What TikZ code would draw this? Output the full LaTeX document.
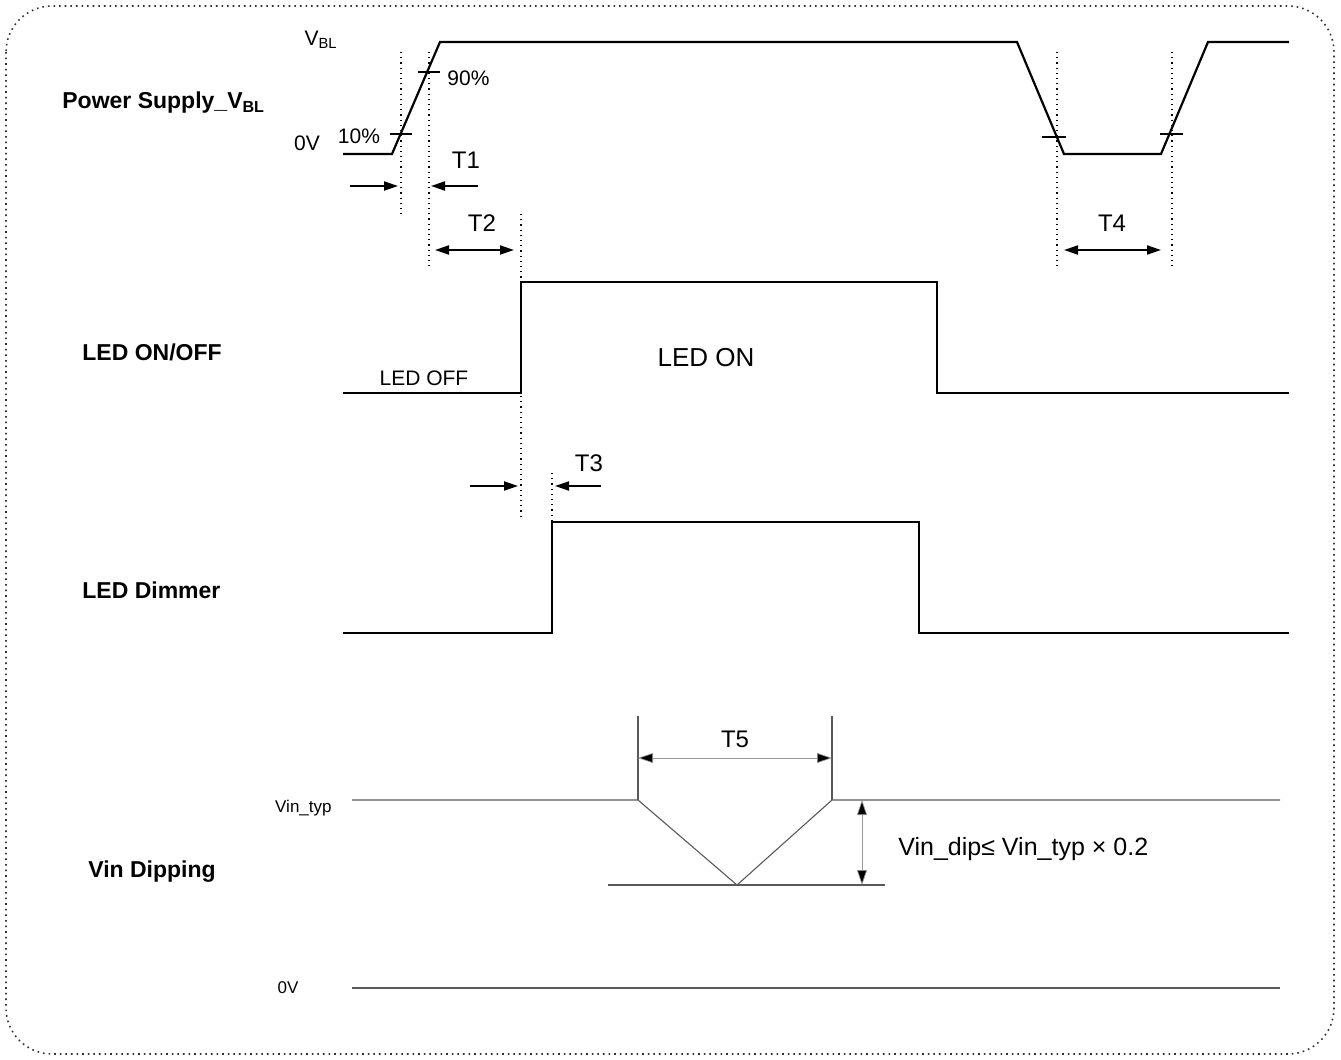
\documentclass[tikz,border=0pt]{standalone}
\usepackage{fontspec}
\setmainfont{Liberation Sans}
\usetikzlibrary{arrows.meta}
\begin{document}
\begin{tikzpicture}[x=0.5pt,y=-0.5pt,
  sig/.style={line width=1.1pt, line join=miter},
  thinln/.style={line width=0.55pt, draw=black!65},
  dotln/.style={dotted, line width=0.6pt},
  tick/.style={line width=0.7pt},
  arr/.style={-{Triangle[length=7pt,width=4.5pt]}, line width=1pt},
  darr/.style={{Triangle[length=7pt,width=4.5pt]}-{Triangle[length=7pt,width=4.5pt]}, line width=1pt},
  tarr/.style={{Triangle[length=7.5pt,width=5pt,fill=black]}-{Triangle[length=7.5pt,width=5pt,fill=black]}, line width=0.35pt, draw=black!40},
  lab/.style={font=\fontsize{11.5}{13}\selectfont\bfseries, anchor=west, inner sep=0},
  tl/.style={font=\fontsize{12}{14}\selectfont, inner sep=0},
  pct/.style={font=\fontsize{10.5}{12}\selectfont, inner sep=0},
  sm/.style={font=\fontsize{8.5}{10}\selectfont, inner sep=0},
]
\useasboundingbox (0,0) rectangle (1341,1060);
\draw[dotted, line width=0.8pt, draw=black!80, rounded corners=23pt] (6,6) rectangle (1334,1054);

% ---- labels on the left
\node[lab] (lps) at (62,103) {Power Supply\_V\textsubscript{BL}};
\node[lab] (lled) at (82,352) {LED ON/OFF};
\node[lab] (ldim) at (82,590) {LED Dimmer};
\node[lab] (lvin) at (88,872) {Vin Dipping};

% ---- power supply waveform
\coordinate (p0) at (343,154);
\coordinate (p1) at (392,154);
\coordinate (p2) at (440,42);
\coordinate (p3) at (1017,42);
\coordinate (p4) at (1064,154);
\coordinate (p5) at (1161,154);
\coordinate (p6) at (1208,42);
\coordinate (p7) at (1289,42);
\draw[sig] (p0) -- (p1) -- (p2) -- (p3) -- (p4) -- (p5) -- (p6) -- (p7);
\draw[tick] (390,134) -- (412,134);
\draw[tick] (418,72) -- (440,72);
\draw[tick] (1042,137) -- (1066,137);
\draw[tick] (1160,134) -- (1183,134);

\node[pct] (vbl) at (321,40) {V\textsubscript{BL}};
\node[pct, anchor=west] (p90) at (447,78) {90\%};
\node[pct] (p0v) at (307,143) {0V};
\node[pct] (p10) at (359,136) {10\%};

% dotted guides
\coordinate (d1a) at (401,52);  \coordinate (d1b) at (401,215);
\coordinate (d2a) at (429,52);  \coordinate (d2b) at (429,266);
\coordinate (d3a) at (521,214); \coordinate (d3b) at (521,520);
\coordinate (d4a) at (552,473); \coordinate (d4b) at (552,522);
\coordinate (d5a) at (1057,52); \coordinate (d5b) at (1057,266);
\coordinate (d6a) at (1172,52); \coordinate (d6b) at (1172,266);
\foreach \a/\b in {d1a/d1b,d2a/d2b,d3a/d3b,d4a/d4b,d5a/d5b,d6a/d6b}
  \draw[dotln] (\a) -- (\b);

% T1
\coordinate (t1a) at (350,186); \coordinate (t1b) at (398,186);
\coordinate (t1c) at (478,186); \coordinate (t1d) at (431,186);
\draw[arr] (t1a) -- (t1b);
\draw[arr] (t1c) -- (t1d);
\node[tl] (T1) at (466,160) {T1};
% T2
\coordinate (t2a) at (435,250); \coordinate (t2b) at (514,250);
\draw[darr] (t2a) -- (t2b);
\node[tl] (T2) at (482,223) {T2};
% T4
\coordinate (t4a) at (1064,250); \coordinate (t4b) at (1161,250);
\draw[darr] (t4a) -- (t4b);
\node[tl] (T4) at (1112,223) {T4};

% ---- LED ON/OFF
\coordinate (l0) at (343,393);
\coordinate (l1) at (521,393);
\coordinate (l2) at (521,282);
\coordinate (l3) at (937,282);
\coordinate (l4) at (937,393);
\coordinate (l5) at (1289,393);
\draw[sig] (l0) -- (l1) -- (l2) -- (l3) -- (l4) -- (l5);
\node[font=\fontsize{10.5}{12}\selectfont, inner sep=0] (loff) at (424,378) {LED OFF};
\node[font=\fontsize{13}{15}\selectfont, inner sep=0] (lon) at (706,358) {LED ON};

% T3
\coordinate (t3a) at (470,486); \coordinate (t3b) at (518,486);
\coordinate (t3c) at (601,486); \coordinate (t3d) at (555,486);
\draw[arr] (t3a) -- (t3b);
\draw[arr] (t3c) -- (t3d);
\node[tl] (T3) at (589,463) {T3};

% ---- LED Dimmer
\coordinate (m0) at (343,633);
\coordinate (m1) at (552,633);
\coordinate (m2) at (552,522);
\coordinate (m3) at (919,522);
\coordinate (m4) at (919,633);
\coordinate (m5) at (1289,633);
\draw[sig] (m0) -- (m1) -- (m2) -- (m3) -- (m4) -- (m5);

% ---- Vin dipping
\coordinate (v0) at (352,800);
\coordinate (v1) at (638,800);
\coordinate (v2) at (737,885);
\coordinate (v3) at (832,800);
\coordinate (v4) at (1280,800);
\draw[thinln] (v0) -- (v1) -- (v2) -- (v3) -- (v4);
\coordinate (g0) at (352,988); \coordinate (g1) at (1280,988);
\draw[thinln] (g0) -- (g1);
\coordinate (b0) at (608,885); \coordinate (b1) at (885,885);
\draw[thinln] (b0) -- (b1);
\coordinate (e1) at (638,716); \coordinate (e2) at (832,716);
\draw[thinln] (e1) -- (v1);
\draw[thinln] (e2) -- (v3);
\coordinate (t5a) at (638,758); \coordinate (t5b) at (832,758);
\draw[tarr] (t5a) -- (t5b);
\node[tl] (T5) at (735,739) {T5};
\coordinate (h0) at (862,800); \coordinate (h1) at (862,885);
\draw[tarr] (h0) -- (h1);
\node[font=\fontsize{12.5}{14}\selectfont, inner sep=0, anchor=west] (vdip) at (898,849) {Vin\_dip≤ Vin\_typ × 0.2};
\node[sm, anchor=east] (vtyp) at (332,808) {Vin\_typ};
\node[sm] (v0v) at (288,988) {0V};
\end{tikzpicture}
\end{document}
